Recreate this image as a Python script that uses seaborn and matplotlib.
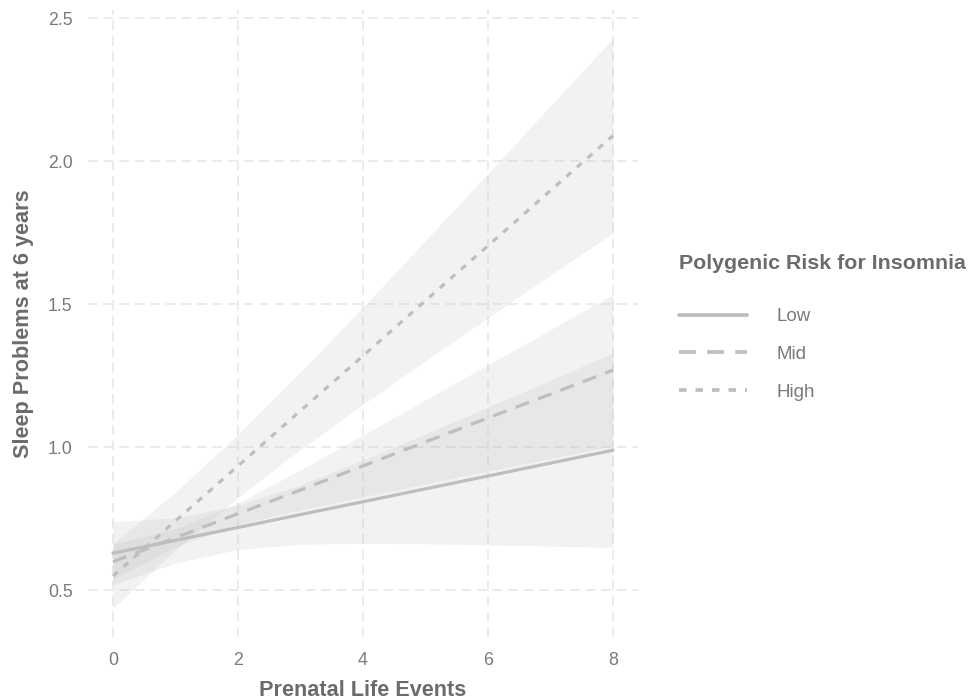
import numpy as np
import pandas as pd
import matplotlib
matplotlib.use("Agg")
import matplotlib.pyplot as plt
import seaborn as sns

# ---- data ----
groups = ["Low", "Mid", "High"]
life_events = [0, 1, 2, 3, 4, 5, 6, 7, 8]

low_fit = [0.630, 0.675, 0.720, 0.765, 0.810, 0.855, 0.900, 0.945, 0.990]
low_lower = [0.520, 0.596, 0.643, 0.661, 0.665, 0.663, 0.659, 0.655, 0.650]
low_upper = [0.740, 0.754, 0.797, 0.869, 0.955, 1.047, 1.141, 1.235, 1.330]

mid_fit = [0.600, 0.684, 0.768, 0.851, 0.935, 1.019, 1.103, 1.186, 1.270]
mid_lower = [0.539, 0.652, 0.731, 0.781, 0.827, 0.872, 0.917, 0.961, 1.005]
mid_upper = [0.662, 0.716, 0.805, 0.921, 1.043, 1.166, 1.289, 1.411, 1.535]

high_fit = [0.550, 0.743, 0.935, 1.128, 1.320, 1.513, 1.705, 1.898, 2.090]
high_lower = [0.437, 0.642, 0.825, 0.993, 1.150, 1.303, 1.453, 1.602, 1.750]
high_upper = [0.663, 0.844, 1.045, 1.263, 1.490, 1.723, 1.957, 2.194, 2.430]

x_ticks = [0, 2, 4, 6, 8]
y_ticks = [0.5, 1.0, 1.5, 2.0, 2.5]

fits = {"Low": low_fit, "Mid": mid_fit, "High": high_fit}
lowers = {"Low": low_lower, "Mid": mid_lower, "High": high_lower}
uppers = {"Low": low_upper, "Mid": mid_upper, "High": high_upper}

df = pd.DataFrame({
    "Prenatal Life Events": np.tile(life_events, len(groups)),
    "Sleep": np.concatenate([fits[g] for g in groups]),
    "Polygenic Risk for Insomnia": np.repeat(groups, len(life_events)),
})

sns.set_theme(style="white")
plt.rcParams["font.family"] = ["Liberation Sans", "DejaVu Sans"]

line_col = "#bebebe"
lw = 2.3

fig = plt.figure(figsize=(9.74, 7.0), dpi=100)
ax = fig.add_axes([0.0903, 0.09, 0.5647, 0.896])

for g in groups:
    ax.fill_between(life_events, lowers[g], uppers[g], color=line_col,
                    alpha=0.2, linewidth=0, zorder=1)

dash_map = {"Low": "", "Mid": (4.5, 3.0), "High": (2.0, 2.4)}
sns.lineplot(data=df, x="Prenatal Life Events", y="Sleep",
             style="Polygenic Risk for Insomnia", style_order=groups,
             dashes=dash_map, color=line_col, linewidth=lw, ax=ax,
             legend=True, zorder=3)

ax.set_xlim(-0.4, 8.4)
ax.set_ylim(0.337, 2.53)
ax.set_xticks(x_ticks)
ax.set_yticks(y_ticks)
ax.set_xticklabels([str(v) for v in x_ticks])
ax.set_yticklabels([f"{v:.1f}" for v in y_ticks])

ax.grid(True, color="#ebebeb", linestyle=(0, (5, 3)), linewidth=1.4, zorder=0)
ax.set_axisbelow(True)
for s in ax.spines.values():
    s.set_visible(False)
ax.tick_params(axis="both", length=0, labelsize=12.8, colors="#7a7a7a")
ax.tick_params(axis="x", pad=11)
ax.tick_params(axis="y", pad=11)

ax.set_xlabel("Prenatal Life Events", fontsize=15.6, fontweight="bold",
              color="#6b6b6b", labelpad=8)
ax.set_ylabel("Sleep Problems at 6 years", fontsize=15.6, fontweight="bold",
              color="#6b6b6b", labelpad=10)

handles, labels = ax.get_legend_handles_labels()
ax.legend_.remove()
leg = fig.legend(handles, labels, title="Polygenic Risk for Insomnia",
                 loc="upper left", bbox_to_anchor=(0.6975, 0.6366),
                 frameon=False, fontsize=13.5, title_fontsize=15.4,
                 handlelength=3.6, handletextpad=1.6, labelspacing=1.1,
                 borderaxespad=0, borderpad=0)
leg._legend_box.align = "left"
leg._legend_box.sep = 25
leg.get_title().set_fontweight("bold")
leg.get_title().set_color("#6b6b6b")
for t in leg.get_texts():
    t.set_color("#7a7a7a")
for h in leg.legend_handles:
    h.set_color(line_col)
    h.set_linewidth(lw + 0.4)

fig.savefig("out.png", dpi=100)
